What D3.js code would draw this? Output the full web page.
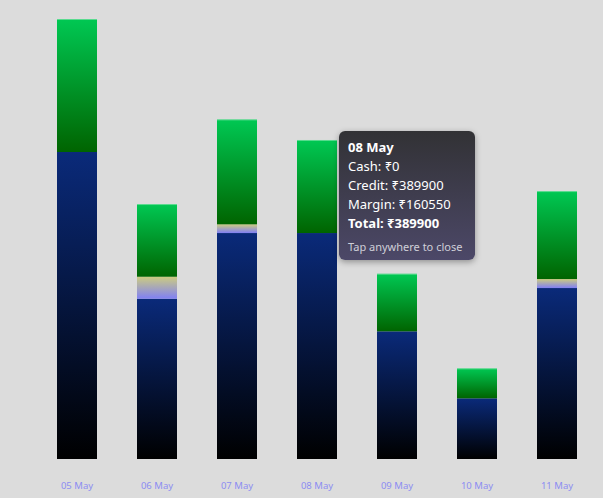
<!DOCTYPE html>
<html>
<head>
<meta charset="utf-8">
<script src="https://cdn.jsdelivr.net/npm/d3@7"></script>
<style>
  html, body { margin: 0; padding: 0; background: #dcdcdc; }
  body { width: 603px; height: 498px; overflow: hidden; position: relative; font-family: "Noto Sans", "Open Sans", sans-serif; }
  #tip {
    position: absolute;
    box-sizing: border-box;
    width: 136px;
    padding: 7px 9px 6px 9px;
    border-radius: 6px;
    background: linear-gradient(to bottom, #323235, #4c4868);
    box-shadow: 0 2px 6px rgba(0,0,0,0.35);
    color: #fff;
    font-size: 13px;
    line-height: 19px;
  }
  #tip .note { font-size: 11px; color: #cfcfd8; margin-top: 7px; line-height: 14px; }
</style>
</head>
<body>
<svg id="chart" width="603" height="498"></svg>
<div id="tip"></div>
<script>
// js/chart.js

const days = ["05 May", "06 May", "07 May", "08 May", "09 May", "10 May", "11 May"];
const credit = [529700, 276600, 389900, 389900, 220300, 104700, 295000];
const cash = [0, 37900, 15000, 0, 0, 0, 15500];
const margin = [229500, 125400, 181100, 160550, 99400, 51800, 151800];

const keys = ["credit", "cash", "margin"];
const rows = days.map((d, i) => ({ day: d, credit: credit[i], cash: cash[i], margin: margin[i] }));

const svg = d3.select("#chart");
const defs = svg.append("defs");

function grad(id, top, bottom) {
  const g = defs.append("linearGradient")
    .attr("id", id)
    .attr("x1", 0).attr("y1", 0).attr("x2", 0).attr("y2", 1);
  g.append("stop").attr("offset", "0%").attr("stop-color", top);
  g.append("stop").attr("offset", "100%").attr("stop-color", bottom);
}
grad("g-credit", "#0a2a7a", "#000000");
grad("g-cash", "#cccc80", "#8080f4");
grad("g-margin", "#00c853", "#006400");

const x = d3.scaleBand()
  .domain(days)
  .range([37, 597])
  .paddingInner(0.5)
  .paddingOuter(0.25);

const stack = d3.stack().keys(keys)(rows);
const maxTotal = d3.max(stack[stack.length - 1], (d) => d[1]);

const y = d3.scaleLinear().domain([0, maxTotal]).range([459, 19]);

svg.append("g")
  .selectAll("g")
  .data(stack)
  .join("g")
  .attr("fill", (s) => `url(#g-${s.key})`)
  .selectAll("rect")
  .data((s) => s)
  .join("rect")
  .attr("x", (d) => x(d.data.day))
  .attr("width", x.bandwidth())
  .attr("y", (d) => y(d[1]))
  .attr("height", (d) => y(d[0]) - y(d[1]));

// thin light edge on top of each bar
svg.append("g")
  .selectAll("rect")
  .data(stack[stack.length - 1])
  .join("rect")
  .attr("x", (d) => x(d.data.day))
  .attr("width", x.bandwidth())
  .attr("y", (d) => y(d[1]))
  .attr("height", 1)
  .attr("fill", "#ffffff")
  .attr("opacity", 0.35);

svg.append("g")
  .selectAll("text")
  .data(days)
  .join("text")
  .attr("x", (d) => x(d) + x.bandwidth() / 2)
  .attr("y", 489)
  .attr("text-anchor", "middle")
  .attr("font-size", 9.5)
  .attr("fill", "#8c8cf2")
  .text((d) => d);

// tooltip for 08 May
const sel = 3;
const fmt = (v) => "\u20B9" + v;
const tip = d3.select("#tip");
tip.html(
  `<b>${days[sel]}</b><br/>` +
  `Cash: ${fmt(cash[sel])}<br/>` +
  `Credit: ${fmt(credit[sel])}<br/>` +
  `Margin: ${fmt(margin[sel])}<br/>` +
  `<b>Total: ${fmt(credit[sel] + cash[sel])}</b>` +
  `<div class="note">Tap anywhere to close</div>`
);
tip.style("left", (x(days[sel]) + x.bandwidth() + 2) + "px")
  .style("top", (y(credit[sel] + cash[sel] + margin[sel]) - 9) + "px");
</script>
</body>
</html>
